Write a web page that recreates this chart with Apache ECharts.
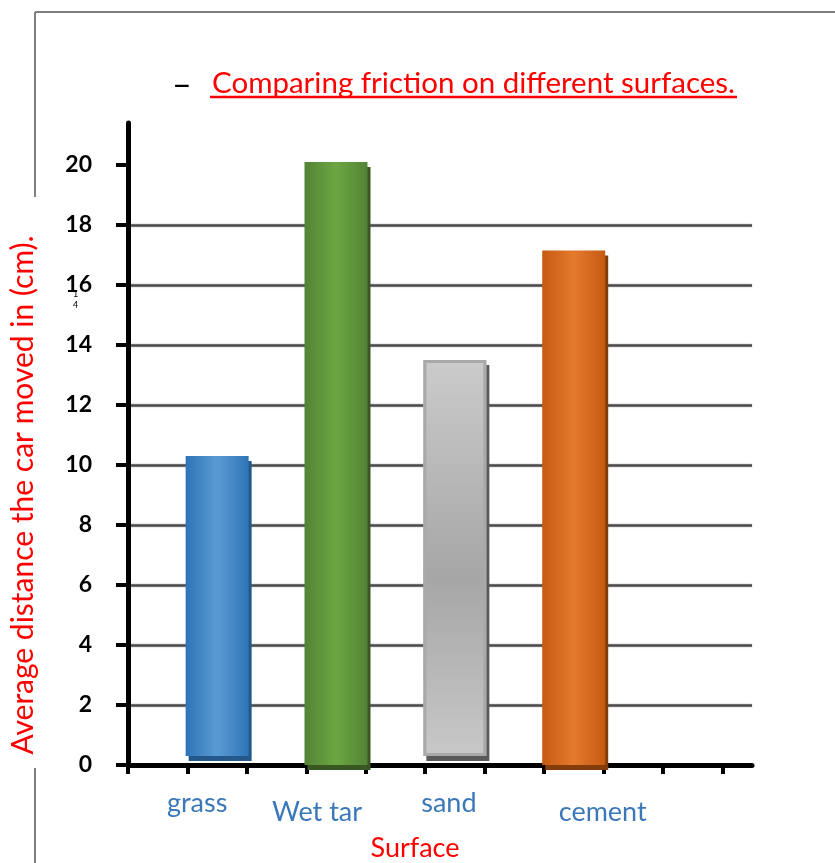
<!DOCTYPE html>
<html>
<head>
<meta charset="utf-8">
<script src="https://cdn.jsdelivr.net/npm/echarts@6/dist/echarts.min.js"></script>
<style>html,body{margin:0;padding:0;background:#fff}#c{width:835px;height:863px}</style>
</head>
<body>
<div id="c"></div>
<script>
// ---- data ----
const categories = ['grass', 'Wet tar', 'sand', 'cement'];
const barTop = [10.3, 20.1, 13.5, 17.15];
const barBase = [0.3, 0, 0.3, 0];
const yTicks = [0, 2, 4, 6, 8, 10, 12, 14, 16, 18, 20];
const titleText = 'Comparing friction on different surfaces.';
const yName = 'Average distance the car moved in (cm).';
const xName = 'Surface';

// ---- layout / style ----
const slotPos = [1.5, 3.5, 5.5, 7.5];
const xTickPos = [0, 1, 2, 3, 4, 5, 6, 7, 8, 9, 10];
const labelShift = [[-20, 0], [-19, 9], [-6, -1], [29, 9]];
const FONT = 'Lato';
const BAR_W = 63;
const barStyles = [
  {c: [['#2E74B5', 0], ['#5B9BD5', 0.5], ['#2E74B5', 1]], dir: 'h', shadow: '#25588A', border: null},
  {c: [['#548235', 0], ['#6CA743', 0.5], ['#548235', 1]], dir: 'h', shadow: '#385723', border: null},
  {c: [['#CBCBCB', 0], ['#A6A6A6', 0.55], ['#C8C8C8', 1]], dir: 'v', shadow: '#595959', border: '#A9A9A9'},
  {c: [['#C55A11', 0], ['#E47A2E', 0.5], ['#C55A11', 1]], dir: 'h', shadow: '#843C0C', border: null}
];
function grad(s) {
  return new echarts.graphic.LinearGradient(0, 0, s.dir === 'h' ? 1 : 0, s.dir === 'h' ? 0 : 1,
    s.c.map(([color, offset]) => ({offset, color})));
}
const rich = {};
categories.forEach((n, i) => {
  const [dx, dy] = labelShift[i];
  rich['s' + i] = {
    fontFamily: FONT, fontSize: 27, color: '#3A78BA',
    padding: [Math.max(0, dy), dx < 0 ? -dx * 2 : 0, Math.max(0, -dy), dx > 0 ? dx * 2 : 0]
  };
});

const chart = echarts.init(document.getElementById('c'), null, {renderer: 'canvas'});
chart.setOption({
  animation: false,
  backgroundColor: '#fff',
  title: {
    text: titleText, left: 207, top: 63,
    textStyle: {fontFamily: FONT, fontWeight: 'normal', fontSize: 29.5, color: '#FF0000'}
  },
  grid: {left: 128, right: 83, top: 123, bottom: 98, containLabel: false, outerBoundsMode: 'none'},
  xAxis: {
    type: 'value', min: 0, max: 10.5, interval: 1,
    name: xName, nameLocation: 'middle', nameGap: 70,
    nameTextStyle: {fontFamily: FONT, fontSize: 27, color: '#FF0000', padding: [0, 50, 0, 0]},
    axisLine: {lineStyle: {color: '#000', width: 5}},
    axisTick: {show: true, customValues: xTickPos, length: 9, inside: false, lineStyle: {color: '#000', width: 4}},
    axisLabel: {
      customValues: slotPos, margin: 25,
      formatter: (v) => { const i = slotPos.indexOf(v); return i < 0 ? '' : '{s' + i + '|' + categories[i] + '}'; },
      rich: rich
    },
    splitLine: {show: false}
  },
  yAxis: {
    type: 'value', min: 0, max: 21.4, interval: 2,
    name: yName, nameLocation: 'middle', nameGap: 90, nameRotate: 90,
    nameTextStyle: {fontFamily: FONT, fontSize: 30, color: '#FF0000', padding: [0, 102, 0, 0]},
    axisLine: {show: true, lineStyle: {color: '#000', width: 5}},
    axisTick: {show: true, customValues: yTicks, length: 12, lineStyle: {color: '#000', width: 4}},
    axisLabel: {
      customValues: yTicks, margin: 36,
      fontFamily: FONT, fontWeight: 'bold', fontSize: 23, color: '#000', padding: [16, 0, 0, 0]
    },
    splitLine: {show: true, showMinLine: false, showMaxLine: false,
      lineStyle: {color: '#4D4D4D', width: 2.5, shadowColor: 'rgba(0,0,0,0.35)', shadowBlur: 2}}
  },
  series: [
    {
      type: 'custom',
      encode: {x: 0, y: [1, 2]},
      data: categories.map((n, i) => [slotPos[i], barBase[i], barTop[i]]),
      renderItem: function (params, api) {
        const i = params.dataIndex;
        const s = barStyles[i];
        const p0 = api.coord([api.value(0), api.value(1)]);
        const p1 = api.coord([api.value(0), api.value(2)]);
        const rect = {x: p0[0] - BAR_W / 2, y: p1[1], width: BAR_W, height: p0[1] - p1[1]};
        const children = [{
          type: 'rect', shape: rect,
          style: {fill: grad(s), shadowColor: s.shadow, shadowBlur: 0, shadowOffsetX: 3, shadowOffsetY: 5}
        }];
        if (s.border) {
          children.push({
            type: 'rect',
            shape: {x: rect.x + 1.5, y: rect.y + 1.5, width: rect.width - 3, height: rect.height - 3},
            style: {fill: null, stroke: s.border, lineWidth: 3}
          });
        }
        return {type: 'group', children: children};
      }
    }
  ],
  graphic: [
    {type: 'line', shape: {x1: 35, y1: 12, x2: 835, y2: 12}, style: {stroke: '#7F7F7F', lineWidth: 2}},
    {type: 'line', shape: {x1: 35, y1: 12, x2: 35, y2: 197}, style: {stroke: '#7F7F7F', lineWidth: 2}},
    {type: 'line', shape: {x1: 35, y1: 768, x2: 35, y2: 863}, style: {stroke: '#7F7F7F', lineWidth: 2}},
    {type: 'line', shape: {x1: 210, y1: 97, x2: 737, y2: 97}, style: {stroke: '#FF0000', lineWidth: 2.5}},
    {type: 'text', left: 172, top: 68, style: {text: '–', fontFamily: FONT, fontSize: 34, fill: '#000'}},
    {type: 'text', left: 73, top: 289, style: {text: '1\n4', fontFamily: FONT, fontSize: 9, lineHeight: 11, fill: '#000', align: 'center'}}
  ]
});
</script>
</body>
</html>
